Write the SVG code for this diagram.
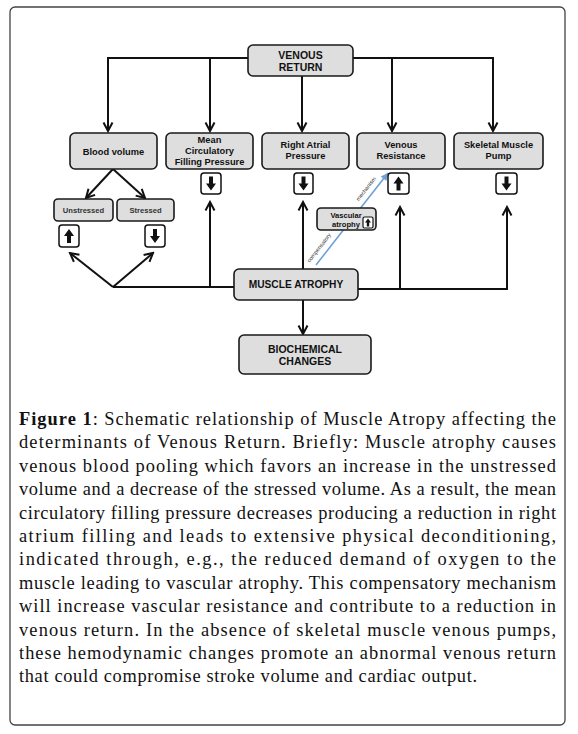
<svg xmlns="http://www.w3.org/2000/svg" xmlns:xlink="http://www.w3.org/1999/xlink" width="578" height="734" viewBox="0 0 578 734">
<style>
.box{fill:#dedede;stroke:#1a1a1a;stroke-width:1.6}
.ind{fill:#fff;stroke:#111;stroke-width:1.5}
.t{font-family:"Liberation Sans",Arial,sans-serif;font-weight:bold;fill:#111;text-anchor:middle}
.big{font-size:10.5px}
.mid{font-size:9.3px}
.sm{font-size:7.6px;fill:#333}
.tiny{font-family:"Liberation Sans",Arial,sans-serif;font-size:5.6px;fill:#333;text-anchor:middle}
.ln{fill:none;stroke:#111;stroke-width:2;marker-end:url(#ah)}
.ln0{fill:none;stroke:#111;stroke-width:2}
.blue{fill:none;stroke:#6fa0d6;stroke-width:1.6;marker-end:url(#bh)}
.cap{font-family:"Liberation Serif","Times New Roman",serif;font-size:18.4px;fill:#111}
</style>
<defs>
<marker id="ah" viewBox="0 0 12 12" refX="10" refY="6" markerWidth="12" markerHeight="12" markerUnits="userSpaceOnUse" orient="auto">
<path d="M1.5,1.5 L10,6 L1.5,10.5" fill="none" stroke="#111" stroke-width="2"/>
</marker>
<marker id="bh" viewBox="0 0 10 10" refX="9" refY="5" markerWidth="9" markerHeight="9" markerUnits="userSpaceOnUse" orient="auto">
<path d="M1,1 L9,5 L1,9 Z" fill="#6fa0d6"/>
</marker>
<path id="dn" d="M-2,-7 H2 V0 H5 L0,7 L-5,0 H-2 Z" fill="#111"/>
<path id="up" d="M-2,7 H2 V0 H5 L0,-7 L-5,0 H-2 Z" fill="#111"/>
</defs>
<rect x="10" y="7" width="555" height="718" rx="5" fill="#fff" stroke="#444" stroke-width="1.3"/>

<g id="connectors">
<path class="ln" d="M248,58 H108 V131"/>
<path class="ln" d="M210,58 V131"/>
<path class="ln" d="M302,76 V131"/>
<path class="ln" d="M353,58 H493 V131"/>
<path class="ln" d="M392,58 V131"/>
<path class="ln" d="M113,169 L86,198"/>
<path class="ln" d="M113,169 L145,198"/>
<path class="ln0" d="M234,287 H113"/>
<path class="ln" d="M113,287 L70,253"/>
<path class="ln" d="M113,287 L153,253"/>
<path class="ln" d="M210,287 V202"/>
<path class="ln" d="M303,269 V202"/>
<path class="ln" d="M358,289 H507 V207"/>
<path class="ln" d="M400,289 V207"/>
<path class="ln" d="M303,300 V334"/>
<path class="blue" d="M316,265 L388,173"/>
</g>

<g id="venous-return">
<rect class="box" x="248" y="45" width="105" height="31" rx="5"/>
<text class="t big" x="300.5" y="59">VENOUS</text>
<text class="t big" x="300.5" y="71">RETURN</text>
</g>

<g id="blood-volume">
<rect class="box" x="70" y="133" width="87" height="36" rx="5"/>
<text class="t mid" x="113.5" y="155">Blood volume</text>
</g>

<g id="mean-circulatory">
<rect class="box" x="166" y="133" width="87" height="36" rx="5"/>
<text class="t mid" x="209.5" y="143">Mean</text>
<text class="t mid" x="209.5" y="154">Circulatory</text>
<text class="t mid" x="209.5" y="165">Filling Pressure</text>
<rect class="ind" x="201" y="173" width="20" height="21" rx="3"/>
<use xlink:href="#dn" x="211" y="183.5"/>
</g>

<g id="right-atrial">
<rect class="box" x="262" y="133" width="87" height="36" rx="5"/>
<text class="t mid" x="305.5" y="148">Right Atrial</text>
<text class="t mid" x="305.5" y="159">Pressure</text>
<rect class="ind" x="294" y="173" width="19" height="21" rx="3"/>
<use xlink:href="#dn" x="303.5" y="183.5"/>
</g>

<g id="venous-resistance">
<rect class="box" x="357" y="133" width="88" height="36" rx="5"/>
<text class="t mid" x="401" y="148">Venous</text>
<text class="t mid" x="401" y="159">Resistance</text>
<rect class="ind" x="388" y="173" width="21" height="21" rx="3"/>
<use xlink:href="#up" x="398.5" y="183.5"/>
</g>

<g id="skeletal-muscle-pump">
<rect class="box" x="454" y="133" width="89" height="36" rx="5"/>
<text class="t mid" x="498.5" y="148">Skeletal Muscle</text>
<text class="t mid" x="498.5" y="159">Pump</text>
<rect class="ind" x="496" y="173" width="21" height="21" rx="3"/>
<use xlink:href="#dn" x="506.5" y="183.5"/>
</g>

<g id="unstressed">
<rect class="box" x="54" y="199" width="59" height="22" rx="4"/>
<text class="t sm" x="83.5" y="213">Unstressed</text>
<rect class="ind" x="59" y="225" width="20" height="22" rx="3"/>
<use xlink:href="#up" x="69" y="236"/>
</g>

<g id="stressed">
<rect class="box" x="117" y="199" width="57" height="22" rx="4"/>
<text class="t sm" x="145.5" y="213">Stressed</text>
<rect class="ind" x="145" y="225" width="20" height="22" rx="3"/>
<use xlink:href="#dn" x="155" y="236"/>
</g>

<g id="vascular-atrophy">
<rect class="box" x="317" y="208" width="59" height="22" rx="4"/>
<text class="t sm" x="346" y="217.5" style="fill:#111">Vascular</text>
<text class="t sm" x="346" y="226.5" style="fill:#111">atrophy</text>
<rect class="ind" x="363" y="217" width="10" height="11" rx="1.5" style="stroke-width:1.2"/>
<path d="M-1.2,4 H1.2 V0 H3 L0,-4 L-3,0 H-1.2 Z" transform="translate(368,222.5)" fill="#111"/>
</g>

<g id="blue-labels">
<text class="tiny" transform="translate(320.5,249) rotate(-52)">compensatory</text>
<text class="tiny" transform="translate(367.5,190) rotate(-52)">mechanism</text>
</g>

<g id="muscle-atrophy">
<rect class="box" x="234" y="269" width="124" height="31" rx="5"/>
<text class="t" x="296" y="288" style="font-size:10.2px">MUSCLE ATROPHY</text>
</g>

<g id="biochemical-changes">
<rect class="box" x="239" y="335" width="132" height="39" rx="5"/>
<text class="t big" x="305" y="353">BIOCHEMICAL</text>
<text class="t big" x="305" y="365">CHANGES</text>
</g>

<g id="caption">
<text class="cap" x="19" y="425" textLength="537" lengthAdjust="spacing"><tspan font-weight="bold">Figure 1</tspan>: Schematic relationship of Muscle Atropy affecting the</text>
<text class="cap" x="19" y="448.4" textLength="537" lengthAdjust="spacing">determinants of Venous Return. Briefly: Muscle atrophy causes</text>
<text class="cap" x="19" y="471.8" textLength="537" lengthAdjust="spacing">venous blood pooling which favors an increase in the unstressed</text>
<text class="cap" x="19" y="495.2" textLength="537" lengthAdjust="spacing">volume and a decrease of the stressed volume. As a result, the mean</text>
<text class="cap" x="19" y="518.6" textLength="537" lengthAdjust="spacing">circulatory filling pressure decreases producing a reduction in right</text>
<text class="cap" x="19" y="542" textLength="537" lengthAdjust="spacing">atrium filling and leads to extensive physical deconditioning,</text>
<text class="cap" x="19" y="565.4" textLength="537" lengthAdjust="spacing">indicated through, e.g., the reduced demand of oxygen to the</text>
<text class="cap" x="19" y="588.8" textLength="537" lengthAdjust="spacing">muscle leading to vascular atrophy. This compensatory mechanism</text>
<text class="cap" x="19" y="612.2" textLength="537" lengthAdjust="spacing">will increase vascular resistance and contribute to a reduction in</text>
<text class="cap" x="19" y="635.6" textLength="537" lengthAdjust="spacing">venous return. In the absence of skeletal muscle venous pumps,</text>
<text class="cap" x="19" y="659" textLength="537" lengthAdjust="spacing">these hemodynamic changes promote an abnormal venous return</text>
<text class="cap" x="19" y="682.4" textLength="458" lengthAdjust="spacing">that could compromise stroke volume and cardiac output.</text>
</g>
</svg>
